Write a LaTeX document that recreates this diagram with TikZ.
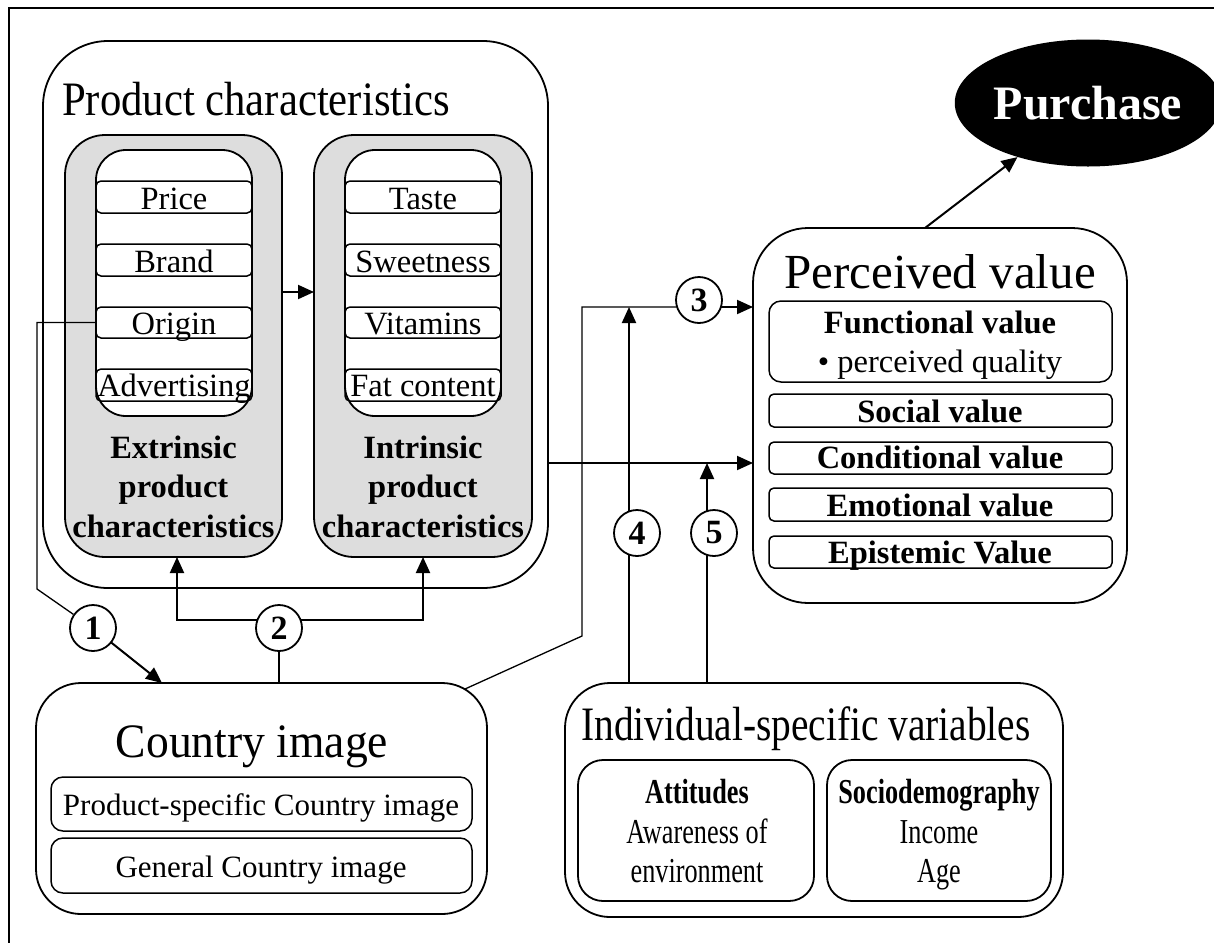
\documentclass[tikz,border=0pt]{standalone}
\usepackage{fontspec}
\setmainfont{Liberation Serif}
\usepackage{graphicx}
\usetikzlibrary{fit,arrows.meta,calc,shapes.geometric,backgrounds}
\definecolor{boxgray}{RGB}{221,221,221}
\begin{document}
\begin{tikzpicture}[x=1pt,y=-1pt,
  bx/.style={draw, line width=1.8pt, inner sep=0pt, outer sep=0pt},
  item/.style={bx, line width=1.5pt, rounded corners=5pt},
  txt/.style={inner sep=0pt, outer sep=0pt, anchor=base, font=\fontsize{#1}{#1}\selectfont},
  txb/.style={inner sep=0pt, outer sep=0pt, anchor=base, font=\fontsize{#1}{#1}\selectfont\bfseries},
  arr/.style={line width=2pt, -{Triangle[length=16pt,width=14pt]}},
  ln/.style={line width=2pt},
  thn/.style={line width=1.3pt},
  circ/.style={circle, draw, fill=white, line width=1.8pt, minimum size=46pt, inner sep=0pt, font=\fontsize{34}{34}\selectfont\bfseries},
]
\useasboundingbox (0,0) rectangle (1214,943);
\draw[line width=2.5pt] (1214,8) -- (9,8) -- (9,943);

% Product characteristics
\node[bx, rounded corners=65pt, fit={(43,41)(548,588)}] (PC) {};
\node[txt=48] (PCt) at (256,115) {\scalebox{0.89}[1]{Product characteristics}};
\node[bx, fill=boxgray, rounded corners=40pt, fit={(65,135)(282,557)}] (EX) {};
\node[bx, fill=boxgray, rounded corners=40pt, fit={(314,135)(532,557)}] (IN) {};
\node[bx, fill=white, rounded corners=30pt, fit={(96,150)(252,416)}] (EXw) {};
\node[bx, fill=white, rounded corners=30pt, fit={(345,150)(501,416)}] (INw) {};

\node[item, fit={(96,181)(252,213)}] (price) {};
\node[item, fit={(96,244)(252,276)}] (brand) {};
\node[item, fit={(96,307)(252,338)}] (origin) {};
\node[item, fit={(96,369)(252,401)}] (adv) {};
\node[txt=32.5] (pricet) at (174,209) {Price};
\node[txt=32.5] (brandt) at (174,272) {Brand};
\node[txt=32.5] (origint) at (174,334) {Origin};
\node[txt=32.5] (advt) at (174,396) {Advertising};

\node[item, fit={(345,181)(501,213)}] (taste) {};
\node[item, fit={(345,244)(501,276)}] (sweet) {};
\node[item, fit={(345,307)(501,338)}] (vit) {};
\node[item, fit={(345,369)(501,401)}] (fat) {};
\node[txt=32.5] (tastet) at (423,209) {Taste};
\node[txt=32.5] (sweett) at (423,272) {Sweetness};
\node[txt=32.5] (vitt) at (423,334) {Vitamins};
\node[txt=32.5] (fatt) at (423,396) {Fat content};

\node[txb=32.5] (ex1) at (173.5,458) {Extrinsic};
\node[txb=32.5] (ex2) at (173.5,497) {product};
\node[txb=32.5] (ex3) at (173.5,537) {characteristics};
\node[txb=32.5] (in1) at (423,458) {Intrinsic};
\node[txb=32.5] (in2) at (423,497) {product};
\node[txb=32.5] (in3) at (423,537) {characteristics};

% Perceived value
\node[bx, rounded corners=55pt, fit={(753,228)(1127,603)}] (PV) {};
\node[txt=49] (PVt) at (940,288) {Perceived value};
\node[item, rounded corners=12pt, fit={(769,301)(1112,382)}] (FV) {};
\node[txb=32.5] (FVt) at (940,333) {Functional value};
\node[txt=32.5] (FVq) at (940,372) {\textbullet\ perceived quality};
\node[item, fit={(769,394)(1112,427)}] (SV) {};
\node[txb=32.5] (SVt) at (940,422) {Social value};
\node[item, fit={(769,442)(1112,474)}] (CV) {};
\node[txb=32.5] (CVt) at (940,468) {Conditional value};
\node[item, fit={(769,488)(1112,521)}] (EV) {};
\node[txb=32.5] (EVt) at (940,516) {Emotional value};
\node[item, fit={(769,536)(1112,568)}] (PIV) {};
\node[txb=32.5] (PIVt) at (940,563) {Epistemic Value};

% Purchase
\node[ellipse, fill=black, minimum width=203pt, minimum height=127pt, inner sep=0pt, text=white, font=\fontsize{48}{48}\selectfont\bfseries] (PU) at (1088,103) {Purchase};

% Country image
\node[bx, rounded corners=45pt, fit={(36,683)(487,914)}] (CI) {};
\node[txt=48] (CIt) at (252,757) {\scalebox{0.95}[1]{Country image}};
\node[item, rounded corners=12pt, fit={(51,777)(472,831)}] (PS) {};
\node[txt=31] (PSt) at (261,815) {Product-specific Country image};
\node[item, rounded corners=12pt, fit={(51,838)(472,893)}] (GC) {};
\node[txt=31] (GCt) at (261,877) {General Country image};

% Individual-specific variables
\node[bx, rounded corners=45pt, fit={(565,683)(1063,917)}] (IS) {};
\node[txt=48] (ISt) at (806,740) {\scalebox{0.82}[1]{Individual-specific variables}};
\node[item, line width=1.8pt, rounded corners=25pt, fit={(578,760)(814,901)}] (AT) {};
\node[txb=35] (AT1) at (697,803) {\scalebox{0.75}[1]{Attitudes}};
\node[txt=35] (AT2) at (697,843) {\scalebox{0.75}[1]{Awareness of}};
\node[txt=35] (AT3) at (697,882) {\scalebox{0.75}[1]{environment}};
\node[item, line width=1.8pt, rounded corners=25pt, fit={(827,760)(1051,901)}] (SD) {};
\node[txb=35] (SD1) at (939,803) {\scalebox{0.75}[1]{Sociodemography}};
\node[txt=35] (SD2) at (939,843) {\scalebox{0.75}[1]{Income}};
\node[txt=35] (SD3) at (939,882) {\scalebox{0.75}[1]{Age}};

% numbered circles
\node[circ] (c1) at (93,628) {1};
\node[circ] (c2) at (279,628) {2};
\node[circ] (c3) at (699,300) {3};
\node[circ] (c4) at (637,533) {4};
\node[circ] (c5) at (714,533) {5};

\coordinate (yEI) at (0,292);
\coordinate (k1) at (37,589);
\coordinate (t1) at (162,683);
\coordinate (b2) at (279,620);
\coordinate (ea) at (177,0);
\coordinate (ia) at (423,0);
\coordinate (d0) at (465,689);
\coordinate (d1) at (582,636);
\coordinate (h3) at (582,307);
\coordinate (x4) at (629,0);
\coordinate (x5) at (707,0);
\coordinate (h5) at (0,463);

% origin link drawn on top of the boxes
\draw[thn] (origin.west) -- (origin.west -| k1) -- (k1) -- (c1);

\begin{scope}[on background layer]
\draw[arr] (EX.east |- yEI) -- (IN.west |- yEI);
\draw[arr] (c1.center) -- (t1);
\draw[arr] (b2) -- (b2 -| ea) -- (EX.south -| ea);
\draw[arr] (b2) -- (b2 -| ia) -- (IN.south -| ia);
\draw[ln] (c2.center) -- (c2.center |- CI.north);
\draw[thn] (d0) -- (d1) -- (h3) -- (h3 -| c3);
\draw[arr] (h3 -| c3) -- (PV.west |- h3);
\draw[arr] (IS.north -| x4) -- (h3 -| x4);
\draw[arr] (IS.north -| x5) -- (h5 -| x5);
\draw[arr] (PC.east |- h5) -- (PV.west |- h5);
\draw[arr] ($(PV.north)+(-15,0)$) -- (PU);
\end{scope}
\end{tikzpicture}
\end{document}
